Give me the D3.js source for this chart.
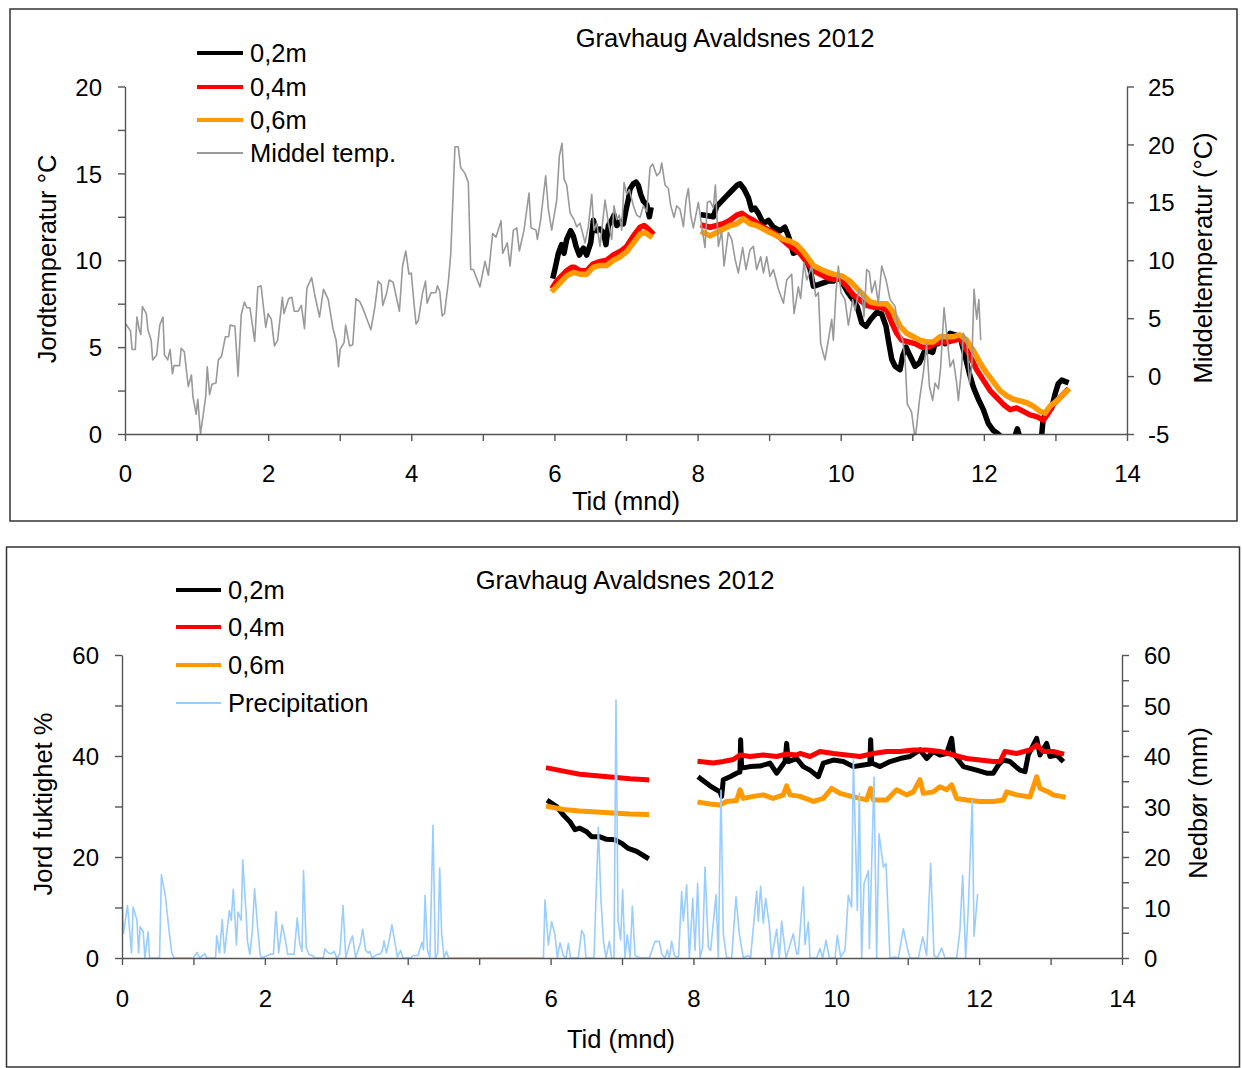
<!DOCTYPE html>
<html><head><meta charset="utf-8">
<script src="https://cdn.jsdelivr.net/npm/d3@7"></script>
<style>
body{margin:0;background:#fff;}
text{font-family:"Liberation Sans",Arial,sans-serif;fill:#000;}
</style>
</head><body>
<svg id="chart" width="1242" height="1068"></svg>
<script>
// ---------- DATA ----------
const TITLE = "Gravhaug Avaldsnes 2012";
const X_TICKS = d3.range(0, 15, 1);            // months, labels every 2
const T_LEFT_TICKS = d3.range(0, 20.01, 2.5);  // Jordtemperatur, labels every 5
const T_RIGHT_TICKS = d3.range(-5, 25.01, 5);  // Middeltemperatur
const M_LEFT_TICKS = d3.range(0, 60.01, 10);   // Jord fuktighet, labels every 20
const M_RIGHT_TICKS = d3.range(0, 60.01, 5);   // Nedbør, labels every 10

// Soil temperature (°C) [month, value]; null = gap
const soilTemp02 = [[5.985,9.1],[6.008,9.5],[6.055,10.4],[6.100,10.9],[6.134,10.4],[6.171,11.2],[6.227,11.7],[6.264,11.4],[6.302,10.8],[6.348,10.3],[6.404,10.7],[6.450,10.3],[6.507,11.0],[6.544,12.3],[6.590,11.7],[6.637,11.8],[6.684,11.6],[6.720,10.9],[6.754,12.0],[6.800,12.3],[6.833,12.6],[6.870,12.0],[6.917,12.2],[6.963,12.1],[7.000,12.9],[7.033,13.5],[7.056,14.1],[7.103,14.4],[7.140,14.5],[7.173,14.3],[7.205,13.8],[7.243,13.4],[7.290,13.2],[7.327,12.5],[7.345,12.9],
[7.7,null],
[8.080,12.6],[8.220,12.5],[8.267,13.1],[8.337,13.4],[8.407,13.7],[8.477,14.0],[8.547,14.3],[8.593,14.4],[8.649,14.1],[8.710,13.6],[8.756,12.9],[8.800,13.0],[8.850,12.7],[8.920,12.1],[8.990,12.3],[9.060,11.9],[9.152,11.7],[9.220,11.9],[9.270,11.4],[9.338,10.4],[9.430,10.6],[9.500,10.2],[9.571,9.5],[9.618,8.5],[9.688,8.6],[9.757,8.7],[9.827,8.8],[9.897,8.8],[9.967,9.1],[10.037,8.6],[10.107,8.1],[10.177,7.7],[10.233,7.3],[10.293,6.4],[10.354,6.2],[10.419,6.6],[10.503,7.0],[10.573,6.9],[10.633,6.2],[10.666,5.4],[10.713,4.3],[10.760,3.9],[10.829,3.7],[10.866,4.5],[10.913,5.0],[10.968,4.5],[11.038,3.9],[11.100,4.1],[11.164,4.7],[11.225,4.8],[11.285,4.7],[11.318,5.2],[11.365,5.2],[11.410,5.6],[11.457,5.2],[11.527,5.8],[11.597,5.7],[11.667,5.6],[11.737,4.5],[11.797,3.5],[11.853,2.7],[11.923,2.0],[11.993,1.4],[12.063,0.6],[12.133,0.2],[12.200,0.0],[12.300,-0.4],[12.420,-0.3],[12.468,0.3],[12.510,-0.3],[12.650,-0.6],[12.800,-0.4],[12.830,0.9],[12.878,1.2],[12.948,1.5],[12.995,2.3],[13.040,2.9],[13.088,3.1],[13.148,3.0]];
const soilTemp04 = [[5.985,8.5],[6.031,8.8],[6.100,9.1],[6.171,9.4],[6.241,9.6],[6.274,9.6],[6.358,9.4],[6.450,9.4],[6.544,9.8],[6.614,9.9],[6.730,10.0],[6.823,10.3],[6.917,10.5],[7.010,10.8],[7.103,11.4],[7.196,11.9],[7.252,12.0],[7.312,11.8],[7.360,11.6],
[7.7,null],
[8.080,12.0],[8.174,11.9],[8.267,12.0],[8.360,12.1],[8.454,12.3],[8.547,12.6],[8.617,12.7],[8.687,12.5],[8.780,12.3],[8.873,12.0],[8.966,11.8],[9.060,11.6],[9.152,11.3],[9.292,10.8],[9.430,10.4],[9.525,9.9],[9.618,9.4],[9.710,9.2],[9.804,9.0],[9.897,8.9],[9.990,8.9],[10.083,8.5],[10.177,8.0],[10.270,7.7],[10.363,7.4],[10.456,7.3],[10.550,7.3],[10.643,7.1],[10.713,6.4],[10.782,5.8],[10.852,5.4],[10.945,5.3],[11.038,5.2],[11.131,5.0],[11.225,5.0],[11.318,5.2],[11.410,5.3],[11.504,5.3],[11.597,5.4],[11.667,5.5],[11.737,5.0],[11.807,4.5],[11.900,3.7],[11.993,3.1],[12.087,2.5],[12.180,2.1],[12.273,1.7],[12.366,1.4],[12.459,1.5],[12.552,1.3],[12.645,1.1],[12.738,1.0],[12.831,0.8],[12.901,1.2],[12.971,1.7],[13.064,2.1],[13.157,2.5]];
const soilTemp06 = [[5.985,8.3],[6.078,8.7],[6.171,9.1],[6.264,9.3],[6.358,9.2],[6.450,9.2],[6.544,9.6],[6.637,9.7],[6.730,9.7],[6.823,10.0],[6.917,10.2],[7.010,10.5],[7.103,11.0],[7.196,11.5],[7.266,11.6],[7.336,11.4],
[7.7,null],
[8.080,11.6],[8.174,11.4],[8.267,11.6],[8.360,11.8],[8.454,12.0],[8.547,12.1],[8.640,12.4],[8.733,12.1],[8.826,12.0],[8.920,11.8],[9.012,11.6],[9.106,11.4],[9.200,11.2],[9.292,11.1],[9.385,10.9],[9.478,10.5],[9.618,9.7],[9.757,9.4],[9.897,9.2],[10.013,9.1],[10.130,8.8],[10.223,8.4],[10.316,8.0],[10.410,7.6],[10.526,7.5],[10.643,7.5],[10.736,7.0],[10.829,6.2],[10.922,5.8],[11.015,5.6],[11.108,5.4],[11.200,5.3],[11.295,5.3],[11.388,5.6],[11.480,5.6],[11.574,5.6],[11.667,5.7],[11.760,5.4],[11.853,4.8],[11.946,4.1],[12.040,3.5],[12.133,3.0],[12.226,2.5],[12.319,2.2],[12.412,2.0],[12.506,1.9],[12.600,1.8],[12.692,1.6],[12.785,1.3],[12.855,1.2],[12.925,1.6],[13.018,1.9],[13.110,2.3],[13.167,2.5]];
// Daily mean air temperature (°C), right axis
const meanTemp = [[0.000,4.6],[0.033,4.3],[0.077,3.9],[0.099,2.3],[0.144,2.3],[0.166,5.1],[0.199,4.0],[0.221,3.6],[0.243,6.0],[0.298,5.4],[0.320,4.0],[0.365,3.1],[0.387,1.4],[0.442,1.8],[0.486,4.4],[0.530,5.1],[0.552,1.8],[0.597,1.4],[0.630,2.3],[0.663,0.2],[0.685,0.9],[0.762,0.9],[0.785,2.4],[0.829,2.1],[0.884,-0.9],[0.928,0.1],[0.950,-1.8],[0.994,-3.3],[1.017,-2.0],[1.055,-5.0],[1.127,-1.8],[1.149,0.8],[1.182,-1.6],[1.215,-0.7],[1.271,-0.6],[1.304,1.4],[1.348,1.7],[1.403,3.4],[1.448,3.4],[1.470,4.4],[1.536,4.3],[1.580,0.0],[1.624,5.3],[1.669,6.4],[1.702,5.9],[1.746,5.9],[1.812,3.0],[1.856,7.7],[1.901,7.8],[1.967,4.2],[2.000,5.4],[2.044,4.9],[2.088,2.6],[2.133,3.1],[2.199,6.8],[2.221,5.4],[2.287,6.7],[2.331,6.8],[2.365,5.6],[2.420,5.6],[2.464,6.1],[2.508,4.1],[2.541,7.6],[2.608,8.5],[2.652,7.0],[2.718,5.1],[2.773,7.5],[2.840,6.6],[2.906,4.1],[2.950,3.1],[2.983,0.8],[3.006,2.3],[3.061,2.9],[3.083,4.4],[3.138,2.6],[3.182,2.7],[3.227,6.7],[3.282,6.4],[3.326,5.8],[3.381,4.9],[3.436,4.0],[3.492,6.0],[3.536,8.2],[3.580,7.9],[3.602,6.1],[3.657,7.2],[3.691,8.3],[3.746,8.1],[3.834,5.6],[3.878,9.5],[3.923,10.8],[3.967,8.8],[4.000,8.9],[4.033,6.6],[4.066,4.5],[4.099,4.8],[4.155,7.1],[4.199,8.2],[4.221,6.3],[4.276,7.2],[4.343,7.2],[4.365,7.8],[4.398,7.3],[4.431,5.2],[4.464,5.4],[4.519,8.2],[4.552,10.6],[4.610,19.8],[4.657,19.8],[4.690,18.0],[4.750,17.5],[4.797,16.7],[4.830,9.2],[4.867,9.2],[4.904,8.6],[4.960,7.7],[5.030,9.9],[5.077,8.7],[5.137,12.3],[5.184,12.0],[5.254,13.4],[5.277,10.6],[5.342,11.5],[5.380,9.5],[5.426,12.6],[5.473,12.8],[5.510,10.8],[5.575,12.6],[5.645,15.8],[5.673,12.8],[5.743,12.6],[5.762,11.8],[5.808,13.5],[5.878,17.3],[5.915,14.4],[5.962,12.6],[6.032,15.2],[6.069,19.0],[6.106,20.1],[6.134,17.0],[6.171,16.5],[6.218,14.1],[6.274,13.5],[6.311,12.9],[6.358,13.2],[6.428,11.5],[6.474,12.9],[6.521,15.7],[6.553,12.6],[6.590,13.2],[6.637,11.2],[6.707,15.2],[6.754,13.2],[6.800,11.8],[6.833,14.7],[6.870,13.5],[6.907,13.9],[6.940,12.6],[6.973,16.7],[7.010,15.7],[7.047,16.1],[7.103,14.7],[7.150,13.9],[7.196,13.7],[7.243,14.7],[7.290,14.2],[7.336,18.0],[7.373,18.3],[7.430,17.3],[7.475,17.6],[7.499,18.4],[7.545,16.5],[7.592,16.2],[7.625,14.7],[7.671,13.7],[7.708,14.7],[7.755,14.4],[7.802,12.9],[7.839,15.2],[7.871,16.2],[7.904,13.9],[7.941,12.8],[8.011,15.0],[8.058,12.9],[8.104,11.1],[8.137,15.0],[8.174,15.1],[8.221,14.5],[8.249,16.5],[8.291,11.2],[8.337,12.5],[8.370,9.5],[8.430,12.4],[8.477,11.8],[8.524,10.1],[8.570,8.9],[8.630,11.1],[8.677,9.2],[8.733,10.9],[8.780,11.2],[8.826,9.2],[8.882,10.3],[8.920,8.9],[8.966,10.3],[9.012,8.6],[9.060,9.2],[9.129,7.5],[9.200,6.3],[9.245,8.3],[9.315,8.8],[9.348,5.4],[9.408,7.7],[9.440,6.7],[9.487,9.8],[9.525,8.3],[9.594,9.5],[9.650,6.9],[9.688,7.2],[9.720,2.8],[9.780,1.4],[9.827,3.1],[9.874,4.9],[9.897,3.1],[9.934,7.2],[9.967,9.5],[10.004,7.2],[10.060,6.6],[10.107,4.4],[10.167,6.6],[10.200,5.7],[10.256,7.5],[10.293,7.3],[10.326,5.1],[10.363,9.2],[10.400,9.0],[10.433,7.2],[10.480,8.2],[10.526,6.3],[10.573,9.5],[10.633,8.3],[10.690,6.6],[10.760,6.0],[10.805,4.0],[10.866,3.1],[10.900,1.4],[10.930,-2.4],[10.990,-3.1],[11.040,-5.5],[11.100,-2.1],[11.155,0.3],[11.200,2.8],[11.240,-0.9],[11.285,-2.1],[11.318,-0.6],[11.365,-1.1],[11.397,0.8],[11.444,5.9],[11.480,3.7],[11.528,0.8],[11.574,1.4],[11.620,-0.6],[11.644,-2.1],[11.690,0.8],[11.714,3.7],[11.760,3.1],[11.800,-0.6],[11.830,0.8],[11.863,7.5],[11.900,4.9],[11.930,6.6],[11.956,3.1]];

// Soil moisture (%) [month, value]
const moist02 = [[5.980,31.0],[6.085,30.0],[6.180,28.3],[6.270,27.0],[6.342,25.4],[6.410,25.7],[6.505,25.0],[6.575,24.0],[6.692,24.0],[6.785,23.5],[6.902,23.4],[6.995,22.7],[7.088,21.7],[7.205,21.1],[7.345,19.9],
[7.7,null],
[8.092,35.6],[8.232,34.1],[8.372,32.9],[8.395,32.0],[8.418,35.3],[8.512,35.9],[8.605,36.6],[8.650,36.8],[8.661,43.2],[8.675,37.6],[8.792,37.9],[8.932,38.0],[9.072,38.6],[9.165,36.6],[9.282,38.9],[9.305,42.5],[9.328,38.9],[9.445,39.5],[9.538,37.9],[9.632,37.2],[9.749,35.9],[9.819,38.6],[9.959,39.2],[10.099,38.9],[10.239,37.9],[10.379,38.2],[10.470,38.4],[10.481,43.2],[10.495,38.6],[10.612,37.9],[10.752,38.9],[10.892,39.5],[11.032,39.9],[11.172,41.2],[11.265,39.5],[11.359,40.9],[11.452,40.2],[11.545,40.5],[11.615,43.5],[11.639,40.5],[11.779,37.9],[11.965,37.2],[12.105,36.6],[12.198,36.6],[12.268,38.2],[12.338,39.2],[12.432,38.9],[12.572,37.2],[12.642,36.9],[12.688,40.2],[12.805,43.5],[12.852,40.2],[12.945,42.5],[12.992,39.9],[13.085,40.2],[13.155,39.2]];
const moist04 = [[5.970,37.6],[6.180,37.0],[6.410,36.4],[6.645,36.1],[6.879,35.8],[7.112,35.5],[7.345,35.3],
[7.7,null],
[8.092,38.9],[8.278,38.6],[8.418,38.9],[8.558,39.3],[8.652,40.2],[8.792,39.9],[8.978,40.2],[9.165,39.9],[9.305,40.4],[9.445,40.2],[9.492,40.5],[9.632,39.9],[9.772,40.9],[9.959,40.5],[10.145,40.2],[10.332,39.9],[10.519,40.5],[10.705,40.9],[10.892,40.9],[11.079,41.2],[11.265,41.2],[11.452,40.9],[11.639,40.2],[11.825,39.5],[12.012,39.2],[12.198,38.9],[12.292,38.9],[12.362,40.9],[12.525,40.5],[12.712,41.2],[12.805,42.2],[12.898,40.9],[13.038,40.9],[13.155,40.5]];
const moist06 = [[5.970,30.0],[6.180,29.4],[6.410,29.1],[6.645,28.9],[6.879,28.7],[7.112,28.5],[7.345,28.4],
[7.7,null],
[8.092,30.8],[8.232,30.5],[8.372,30.3],[8.465,31.0],[8.605,31.2],[8.652,33.3],[8.698,31.6],[8.838,32.0],[8.978,32.3],[9.118,31.6],[9.258,32.3],[9.305,34.1],[9.352,32.3],[9.492,32.0],[9.679,31.0],[9.819,31.6],[9.935,33.6],[10.052,32.6],[10.239,31.9],[10.425,31.3],[10.481,33.6],[10.519,31.3],[10.705,31.3],[10.845,33.3],[10.985,32.3],[11.079,32.9],[11.172,35.3],[11.219,32.6],[11.359,32.9],[11.452,33.9],[11.545,33.3],[11.615,34.3],[11.685,31.6],[11.825,31.3],[12.012,31.0],[12.198,31.0],[12.338,31.3],[12.385,32.9],[12.525,32.3],[12.712,31.9],[12.805,35.9],[12.852,33.6],[12.968,32.9],[13.038,32.3],[13.178,31.9]];
// Precipitation (mm) [month, value]
const precip = [[0.000,11.4],[0.022,4.9],[0.077,10.4],[0.133,1.0],[0.155,10.1],[0.210,7.5],[0.232,1.0],[0.254,6.2],[0.298,5.2],[0.320,0],[0.365,5.2],[0.387,0],[0.525,0],[0.552,16.5],[0.608,12.1],[0.663,4.9],[0.696,1.0],[0.730,0],[1.000,0],[1.050,1.1],[1.088,0],[1.160,0.8],[1.190,0],[1.310,0],[1.326,4.4],[1.365,1.0],[1.403,7.6],[1.436,1.0],[1.503,9.4],[1.530,7.5],[1.558,13.6],[1.602,2.6],[1.624,9.1],[1.669,7.5],[1.690,19.4],[1.735,9.4],[1.757,3.3],[1.790,0.7],[1.823,5.2],[1.856,13.7],[1.900,5.9],[1.934,0.7],[1.956,0],[2.083,0.8],[2.120,0.7],[2.155,9.2],[2.193,1.0],[2.243,6.6],[2.287,3.6],[2.320,0.7],[2.359,0.8],[2.409,0.7],[2.453,7.9],[2.486,3.1],[2.520,1.3],[2.541,17.3],[2.580,2.0],[2.619,0.7],[2.663,0.5],[2.707,0],[2.818,0],[2.840,1.8],[2.884,1.1],[2.928,0.8],[2.972,1.3],[3.006,0],[3.050,0.8],[3.094,10.4],[3.133,0],[3.188,2.9],[3.227,4.4],[3.271,0],[3.337,2.9],[3.370,5.7],[3.409,1.6],[3.448,1.0],[3.470,1.3],[3.503,0],[3.580,0.8],[3.613,0.7],[3.646,1.6],[3.668,3.4],[3.702,1.0],[3.735,3.1],[3.779,6.6],[3.823,2.9],[3.856,0.2],[3.900,1.5],[3.934,0],[4.044,0],[4.077,0.5],[4.144,0.5],[4.199,3.1],[4.221,1.6],[4.243,12.4],[4.276,1.6],[4.310,0],[4.354,26.3],[4.387,0],[4.420,1.0],[4.448,17.8],[4.475,4.9],[4.508,0],[4.541,1.3],[4.575,0],[5.900,0],[5.922,11.5],[5.969,2.6],[6.015,7.2],[6.062,4.6],[6.095,0],[6.132,3.0],[6.179,0.5],[6.216,0],[6.249,2.9],[6.281,0],[6.389,0],[6.435,5.5],[6.468,4.6],[6.496,0],[6.608,0],[6.669,25.9],[6.706,11.5],[6.739,3.6],[6.776,0],[6.823,3.3],[6.855,0],[6.888,0],[6.916,51.1],[6.944,7.5],[6.981,3.6],[7.009,13.5],[7.042,0],[7.074,4.6],[7.112,0.1],[7.145,10.3],[7.182,0.5],[7.252,0],[7.383,0],[7.462,3.3],[7.523,3.3],[7.555,0.8],[7.602,0],[7.635,1.6],[7.662,0],[7.695,3.3],[7.732,0.6],[7.775,0],[7.793,0.5],[7.835,13.2],[7.859,7.3],[7.905,14.5],[7.943,0],[7.990,11.8],[8.022,1.5],[8.059,14.8],[8.092,0.1],[8.129,2.1],[8.162,18.0],[8.209,2.1],[8.241,1.5],[8.316,12.5],[8.348,0.1],[8.386,33.2],[8.418,4.8],[8.465,0],[8.535,0],[8.596,12.1],[8.642,4.8],[8.698,0],[8.768,0.5],[8.800,0],[8.885,13.2],[8.908,7.3],[8.941,14.2],[8.978,6.9],[9.011,11.8],[9.062,6.6],[9.095,0],[9.165,5.7],[9.203,0],[9.235,7.3],[9.296,0],[9.398,4.8],[9.445,0.8],[9.468,0.8],[9.539,14.1],[9.562,2.7],[9.609,7.1],[9.632,0],[9.725,0],[9.772,1.9],[9.809,0],[9.856,3.5],[9.903,0],[9.982,0],[10.015,4.5],[10.061,0.2],[10.122,1.5],[10.169,12.4],[10.215,10.1],[10.239,39.5],[10.295,9.4],[10.323,32.6],[10.355,0],[10.388,14.7],[10.449,17.3],[10.463,1.9],[10.528,35.8],[10.565,0],[10.598,24.6],[10.635,20.7],[10.659,18.0],[10.696,18.7],[10.752,0],[10.822,0.2],[10.869,0],[10.939,5.8],[10.995,1.9],[11.032,0],[11.149,0],[11.210,4.2],[11.265,0.5],[11.321,18.8],[11.368,0.5],[11.415,0],[11.475,2.0],[11.522,0],[11.685,0],[11.732,5.6],[11.769,16.4],[11.811,0],[11.849,10.1],[11.904,31.3],[11.928,4.3],[11.979,12.7]];

const SERIES_LABELS_T = ["0,2m","0,4m","0,6m","Middel temp."];
const SERIES_LABELS_M = ["0,2m","0,4m","0,6m","Precipitation"];
const COLORS = ["#000000","#ff0000","#ff9900"];

// ---------- DRAW ----------
const svg = d3.select("#chart");
const FS = 24, FS_T = 25.5;
const AXC = "#555";

function styleAxis(g){
  g.selectAll("path.domain").attr("stroke",AXC).attr("stroke-width",1.4);
  g.selectAll(".tick line").attr("stroke",AXC).attr("stroke-width",1.4);
  g.selectAll(".tick text").style("font-size",FS+"px").style("font-family","'Liberation Sans',Arial,sans-serif").attr("fill","#000");
}

function panel(cfg){
  svg.append("rect").attr("x",cfg.box[0]).attr("y",cfg.box[1]).attr("width",cfg.box[2]).attr("height",cfg.box[3])
     .attr("fill","none").attr("stroke","#333").attr("stroke-width",1.5);
  const x = d3.scaleLinear().domain([0,14]).range(cfg.xr);
  const yL = d3.scaleLinear().domain(cfg.yLdom).range(cfg.yr);
  const yR = d3.scaleLinear().domain(cfg.yRdom).range(cfg.yr);

  const clipId = "clip"+cfg.id;
  svg.append("clipPath").attr("id",clipId).append("rect")
     .attr("x",cfg.xr[0]).attr("y",cfg.yr[1]-3).attr("width",cfg.xr[1]-cfg.xr[0]).attr("height",cfg.yr[0]-cfg.yr[1]+3);

  const lineR = d3.line().defined(d=>d[1]!=null).x(d=>x(d[0])).y(d=>yR(d[1]));
  const lineL = d3.line().defined(d=>d[1]!=null).x(d=>x(d[0])).y(d=>yL(d[1]));
  const plot = svg.append("g").attr("clip-path",`url(#${clipId})`);
  cfg.thickSeries.forEach((s,i)=>{
    plot.append("path").datum(s).attr("d",lineL).attr("fill","none")
      .attr("stroke",COLORS[i]).attr("stroke-width",cfg.thickW).attr("stroke-linejoin","round").attr("stroke-linecap","square");
  });
  plot.append("path").datum(cfg.thin).attr("d",lineR).attr("fill","none")
      .attr("stroke",cfg.thinColor).attr("stroke-width",1.6).attr("stroke-linejoin","round");

  // axes
  const gx = svg.append("g").attr("transform",`translate(0,${cfg.yr[0]})`)
    .call(d3.axisBottom(x).tickValues(X_TICKS).tickFormat(d=>d%2===0?d:"").tickSize(7).tickSizeOuter(0).tickPadding(cfg.xPad));
  styleAxis(gx);
  const gl = svg.append("g").attr("transform",`translate(${cfg.xr[0]},0)`)
    .call(d3.axisLeft(yL).tickValues(cfg.lTicks).tickFormat(d=>d%cfg.lLab===0?d:"").tickSize(7).tickSizeOuter(0).tickPadding(cfg.lPad));
  styleAxis(gl);
  const gr = svg.append("g").attr("transform",`translate(${cfg.xr[1]},0)`)
    .call(d3.axisRight(yR).tickValues(cfg.rTicks).tickFormat(d=>d%cfg.rLab===0?d:"").tickSize(7).tickSizeOuter(0).tickPadding(cfg.rPad));
  styleAxis(gr);
  gl.selectAll(".tick text").attr("dy","0.36em");
  gr.selectAll(".tick text").attr("dy","0.36em");

  // titles
  svg.append("text").attr("x",cfg.titleXY[0]).attr("y",cfg.titleXY[1]).attr("text-anchor","middle")
     .style("font-size",FS_T+"px").text(TITLE);
  svg.append("text").attr("x",cfg.xTitleXY[0]).attr("y",cfg.xTitleXY[1]).attr("text-anchor","middle")
     .style("font-size",FS_T+"px").text("Tid (mnd)");
  svg.append("text").attr("transform",`translate(${cfg.yLTitleXY[0]},${cfg.yLTitleXY[1]}) rotate(-90)`).attr("text-anchor","middle")
     .style("font-size",FS_T+"px").text(cfg.yLTitle);
  svg.append("text").attr("transform",`translate(${cfg.yRTitleXY[0]},${cfg.yRTitleXY[1]}) rotate(-90)`).attr("text-anchor","middle")
     .style("font-size",FS_T+"px").text(cfg.yRTitle);

  // legend
  const lg = svg.append("g");
  cfg.legendLabels.forEach((lab,i)=>{
    const yy = cfg.legY[i];
    const thin = i===3;
    lg.append("line").attr("x1",cfg.legX[0]).attr("x2",cfg.legX[1]).attr("y1",yy).attr("y2",yy)
      .attr("stroke", thin?cfg.thinColor:COLORS[i]).attr("stroke-width", thin?1.8:4);
    lg.append("text").attr("x",cfg.legX[1]+7).attr("y",yy).attr("dy","0.36em")
      .style("font-size",FS_T+"px").text(lab);
  });
}

panel({
  id:"T", box:[10,9,1227,512],
  xr:[125,1127], yr:[434,86.5], yLdom:[0,20], yRdom:[-5,25],
  thickSeries:[soilTemp02,soilTemp04,soilTemp06], thickW:5.5,
  thin:meanTemp, thinColor:"#999999",
  lTicks:T_LEFT_TICKS, lLab:5, rTicks:T_RIGHT_TICKS, rLab:5,
  xPad:24, lPad:16, rPad:14,
  titleXY:[725,47], xTitleXY:[626,510],
  yLTitle:"Jordtemperatur °C", yLTitleXY:[56,259],
  yRTitle:"Middeltemperatur (°C)", yRTitleXY:[1212,258],
  legendLabels:SERIES_LABELS_T, legX:[197,243], legY:[53,87,120,153]
});

panel({
  id:"M", box:[6.5,547,1233,520],
  xr:[122,1122], yr:[958,655], yLdom:[0,60], yRdom:[0,60],
  thickSeries:[moist02,moist04,moist06], thickW:5,
  thin:precip, thinColor:"#99ccff",
  lTicks:M_LEFT_TICKS, lLab:20, rTicks:M_RIGHT_TICKS, rLab:10,
  xPad:25, lPad:16, rPad:15,
  titleXY:[625,589], xTitleXY:[621,1048],
  yLTitle:"Jord fuktighet %", yLTitleXY:[52,804],
  yRTitle:"Nedbør (mm)", yRTitleXY:[1207,803],
  legendLabels:SERIES_LABELS_M, legX:[176,221], legY:[590,627,665,703]
});
</script>
</body></html>
